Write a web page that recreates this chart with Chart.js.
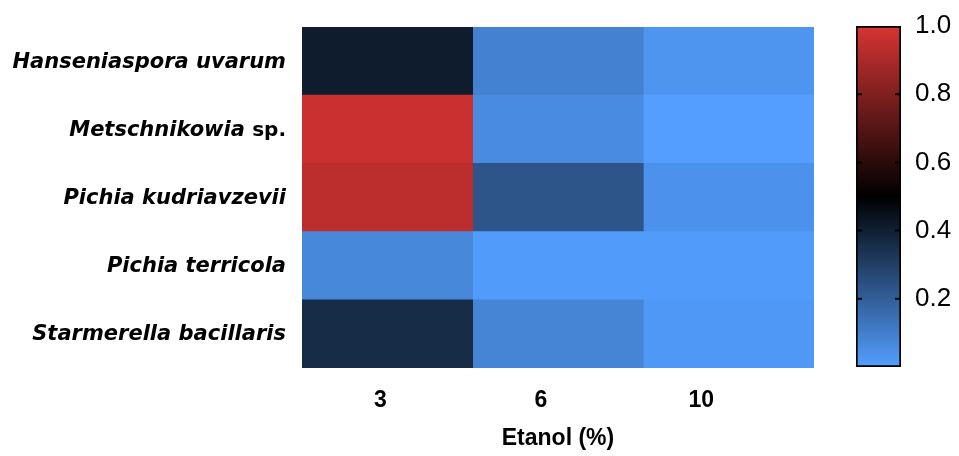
<!DOCTYPE html>
<html>
<head>
<meta charset="utf-8">
<script src="https://cdn.jsdelivr.net/npm/chart.js@4"></script>
<style>
  html, body { margin: 0; padding: 0; background: #fff; }
  #wrap { position: relative; width: 959px; height: 456px; }
  #heat { position: absolute; left: 0; top: 0; }
  #bar { position: absolute; left: 840px; top: 0; }
</style>
</head>
<body>
<div id="wrap">
  <canvas id="heat" width="840" height="456"></canvas>
  <canvas id="bar" width="119" height="456"></canvas>
</div>
<script>
// data
const species = [
  "Hanseniaspora uvarum",
  "Metschnikowia sp.",
  "Pichia kudriavzevii",
  "Pichia terricola",
  "Starmerella bacillaris"
];
const ethanol = ["3", "6", "10"];
// one array per ethanol level, rows in species order
const at3 = [0.41, 0.97, 0.94, 0.07, 0.36];
const at6 = [0.09, 0.06, 0.23, 0.01, 0.08];
const at10 = [0.03, 0.00, 0.04, 0.01, 0.02];
const colorTicks = [0.2, 0.4, 0.6, 0.8, 1.0];

// blue -> black -> red
const stops = [
  [0, [83, 158, 255]],
  [0.5, [0, 0, 0]],
  [1, [214, 52, 52]]
];

function colorFor(v) {
  for (let i = 1; i < stops.length; i++) {
    if (v <= stops[i][0]) {
      const [a, ca] = stops[i - 1];
      const [b, cb] = stops[i];
      const t = (v - a) / (b - a);
      const c = ca.map((x, k) => Math.round(x + (cb[k] - x) * t));
      return `rgb(${c[0]},${c[1]},${c[2]})`;
    }
  }
  const c = stops[stops.length - 1][1];
  return `rgb(${c[0]},${c[1]},${c[2]})`;
}

const columns = [at3, at6, at10];

const datasets = columns.map((vals, c) => ({
  label: ethanol[c],
  data: vals.map(() => [c, c + 1]),
  backgroundColor: vals.map(colorFor),
  borderWidth: 0,
  barPercentage: 1,
  categoryPercentage: 1,
  grouped: false
}));

// species names, italic except "sp."
const speciesLabels = {
  id: "speciesLabels",
  afterDraw(chart) {
    const { ctx } = chart;
    const y = chart.scales.y;
    const right = chart.chartArea.left - 16;
    ctx.save();
    ctx.fillStyle = "#000";
    ctx.textBaseline = "middle";
    ctx.textAlign = "right";
    species.forEach((name, i) => {
      const py = y.getPixelForTick(i) + 1;
      let italic = name, plain = "";
      if (name.endsWith(" sp.")) {
        italic = name.slice(0, -4) + " ";
        plain = "sp.";
      }
      let x = right;
      if (plain) {
        ctx.font = "bold 20px 'DejaVu Sans'";
        ctx.fillText(plain, x, py);
        x -= ctx.measureText(plain).width;
      }
      ctx.font = "italic bold 21px 'DejaVu Sans'";
      ctx.fillText(italic, x, py);
    });
    ctx.restore();
  }
};

new Chart(document.getElementById("heat"), {
  type: "bar",
  data: { labels: species, datasets },
  options: {
    indexAxis: "y",
    responsive: false,
    animation: false,
    layout: { padding: { left: 302, top: 27, right: 26, bottom: 0 } },
    plugins: { legend: { display: false }, tooltip: { enabled: false } },
    scales: {
      x: {
        type: "linear",
        min: 0,
        max: 3,
        grid: { display: false, drawTicks: false },
        border: { display: false },
        afterBuildTicks: s => { s.ticks = [0.46, 1.4, 2.34].map(v => ({ value: v })); },
        afterFit: s => { s.height = 88; },
        ticks: {
          padding: 19,
          color: "#000",
          font: { family: "'Liberation Sans'", size: 23, weight: "bold" },
          callback: (v, i) => ethanol[i]
        },
        title: {
          display: true,
          text: "Etanol (%)",
          color: "#000",
          font: { family: "'Liberation Sans'", size: 23, weight: "bold" },
          padding: { top: 0, bottom: 4 }
        }
      },
      y: {
        display: false,
        grid: { display: false }
      }
    }
  },
  plugins: [speciesLabels]
});

// small inward tick marks on the colour bar
const barTicks = {
  id: "barTicks",
  afterDatasetsDraw(chart) {
    const { ctx, chartArea } = chart;
    const y = chart.scales.y;
    ctx.save();
    ctx.strokeStyle = "#000";
    ctx.lineWidth = 2;
    colorTicks.forEach(v => {
      if (v >= 1) return;
      const py = y.getPixelForValue(v);
      ctx.beginPath();
      ctx.moveTo(chartArea.left, py);
      ctx.lineTo(chartArea.left + 6, py);
      ctx.moveTo(chartArea.right - 6, py);
      ctx.lineTo(chartArea.right, py);
      ctx.stroke();
    });
    ctx.restore();
  }
};

new Chart(document.getElementById("bar"), {
  type: "bar",
  data: {
    labels: [""],
    datasets: [{
      data: [[0, 1]],
      barPercentage: 1,
      categoryPercentage: 1,
      borderWidth: 2,
      borderColor: "#000",
      borderSkipped: false,
      backgroundColor: c => {
        const chart = c.chart;
        if (!chart.chartArea) return "#000";
        const y = chart.scales.y;
        const g = chart.ctx.createLinearGradient(0, y.getPixelForValue(0), 0, y.getPixelForValue(1));
        stops.forEach(([p, col]) => g.addColorStop(p, `rgb(${col[0]},${col[1]},${col[2]})`));
        return g;
      }
    }]
  },
  options: {
    responsive: false,
    animation: false,
    layout: { padding: { left: 16, top: 26, bottom: 89, right: 0 } },
    plugins: { legend: { display: false }, tooltip: { enabled: false } },
    scales: {
      x: { display: false },
      y: {
        position: "right",
        min: 0,
        max: 1,
        grid: { display: false, drawTicks: false },
        border: { display: false },
        afterBuildTicks: s => { s.ticks = colorTicks.map(v => ({ value: v })); },
        afterFit: s => { s.width = 58; s.paddingTop = 0; s.paddingBottom = 0; },
        ticks: {
          padding: 14,
          color: "#000",
          font: { family: "'Liberation Sans'", size: 26 },
          callback: v => v.toFixed(1)
        }
      }
    }
  },
  plugins: [barTicks]
});
</script>
</body>
</html>
